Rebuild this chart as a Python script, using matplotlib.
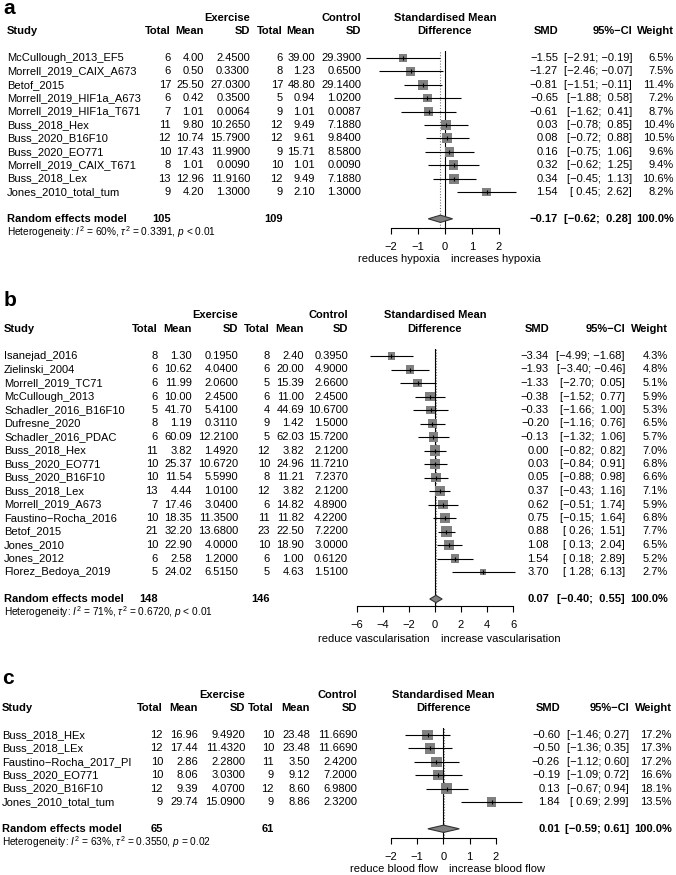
import matplotlib
matplotlib.use("Agg")
import matplotlib.pyplot as plt
from matplotlib.transforms import blended_transform_factory

plt.rcParams["font.family"] = ["Liberation Sans", "DejaVu Sans"]
plt.rcParams["mathtext.fontset"] = "custom"
plt.rcParams["mathtext.rm"] = "Liberation Sans"
plt.rcParams["mathtext.it"] = "Liberation Sans:italic"
plt.rcParams["mathtext.bf"] = "Liberation Sans:bold"

# ---- panel a : hypoxia ----
studies_a = ["McCullough_2013_EF5", "Morrell_2019_CAIX_A673", "Betof_2015",
             "Morrell_2019_HIF1a_A673", "Morrell_2019_HIF1a_T671", "Buss_2018_Hex",
             "Buss_2020_B16F10", "Buss_2020_EO771", "Morrell_2019_CAIX_T671",
             "Buss_2018_Lex", "Jones_2010_total_tum"]
ex_n_a = [6, 6, 17, 6, 7, 11, 12, 10, 8, 13, 9]
ex_mean_a = [4.00, 0.50, 25.50, 0.42, 1.01, 9.80, 10.74, 17.43, 1.01, 12.96, 4.20]
ex_sd_a = [2.4500, 0.3300, 27.0300, 0.3500, 0.0064, 10.2650, 15.7900, 11.9900, 0.0090, 11.9160, 1.3000]
ct_n_a = [6, 8, 17, 5, 9, 12, 12, 9, 10, 12, 9]
ct_mean_a = [39.00, 1.23, 48.80, 0.94, 1.01, 9.49, 9.61, 15.71, 1.01, 9.49, 2.10]
ct_sd_a = [29.3900, 0.6500, 29.1400, 1.0200, 0.0087, 7.1880, 9.8400, 8.5800, 0.0090, 7.1880, 1.3000]
smd_a = [-1.55, -1.27, -0.81, -0.65, -0.61, 0.03, 0.08, 0.16, 0.32, 0.34, 1.54]
lo_a = [-2.91, -2.46, -1.51, -1.88, -1.62, -0.78, -0.72, -0.75, -0.62, -0.45, 0.45]
hi_a = [-0.19, -0.07, -0.11, 0.58, 0.41, 0.85, 0.88, 1.06, 1.25, 1.13, 2.62]
w_a = [6.5, 7.5, 11.4, 7.2, 8.7, 10.4, 10.5, 9.6, 9.4, 10.6, 8.2]
pooled_a = [-0.17, -0.62, 0.28]
totals_a = [105, 109]
het_a = r"Heterogeneity: $I^2$ = 60%, $\tau^2$ = 0.3391, $p$ < 0.01"
ticks_a = [-2, -1, 0, 1, 2]
labels_a = ["reduces hypoxia", "increases hypoxia"]

# ---- panel b : vascularisation ----
studies_b = ["Isanejad_2016", "Zielinski_2004", "Morrell_2019_TC71", "McCullough_2013",
             "Schadler_2016_B16F10", "Dufresne_2020", "Schadler_2016_PDAC", "Buss_2018_Hex",
             "Buss_2020_EO771", "Buss_2020_B16F10", "Buss_2018_Lex", "Morrell_2019_A673",
             "Faustino\u2212Rocha_2016", "Betof_2015", "Jones_2010", "Jones_2012",
             "Florez_Bedoya_2019"]
ex_n_b = [8, 6, 6, 6, 5, 8, 6, 11, 10, 10, 13, 7, 10, 21, 10, 6, 5]
ex_mean_b = [1.30, 10.62, 11.99, 10.00, 41.70, 1.19, 60.09, 3.82, 25.37, 11.54, 4.44,
             17.46, 18.35, 32.20, 22.90, 2.58, 24.02]
ex_sd_b = [0.1950, 4.0400, 2.0600, 2.4500, 5.4100, 0.3110, 12.2100, 1.4920, 10.6720,
           5.5990, 1.0100, 3.0400, 11.3500, 13.6800, 4.0000, 1.2000, 6.5150]
ct_n_b = [8, 6, 5, 6, 4, 9, 5, 12, 10, 8, 12, 6, 11, 23, 10, 6, 5]
ct_mean_b = [2.40, 20.00, 15.39, 11.00, 44.69, 1.42, 62.03, 3.82, 24.96, 11.21, 3.82,
             14.82, 11.82, 22.50, 18.90, 1.00, 4.63]
ct_sd_b = [0.3950, 4.9000, 2.6600, 2.4500, 10.6700, 1.5000, 15.7200, 2.1200, 11.7210,
           7.2370, 2.1200, 4.8900, 4.2200, 7.2200, 3.0000, 0.6120, 1.5100]
smd_b = [-3.34, -1.93, -1.33, -0.38, -0.33, -0.20, -0.13, 0.00, 0.03, 0.05, 0.37, 0.62,
         0.75, 0.88, 1.08, 1.54, 3.70]
lo_b = [-4.99, -3.40, -2.70, -1.52, -1.66, -1.16, -1.32, -0.82, -0.84, -0.88, -0.43,
        -0.51, -0.15, 0.26, 0.13, 0.18, 1.28]
hi_b = [-1.68, -0.46, 0.05, 0.77, 1.00, 0.76, 1.06, 0.82, 0.91, 0.98, 1.16, 1.74, 1.64,
        1.51, 2.04, 2.89, 6.13]
w_b = [4.3, 4.8, 5.1, 5.9, 5.3, 6.5, 5.7, 7.0, 6.8, 6.6, 7.1, 5.9, 6.8, 7.7, 6.5, 5.2, 2.7]
pooled_b = [0.07, -0.40, 0.55]
totals_b = [148, 146]
het_b = r"Heterogeneity: $I^2$ = 71%, $\tau^2$ = 0.6720, $p$ < 0.01"
ticks_b = [-6, -4, -2, 0, 2, 4, 6]
labels_b = ["reduce vascularisation", "increase vascularisation"]

# ---- panel c : blood flow ----
studies_c = ["Buss_2018_HEx", "Buss_2018_LEx", "Faustino\u2212Rocha_2017_PI",
             "Buss_2020_EO771", "Buss_2020_B16F10", "Jones_2010_total_tum"]
ex_n_c = [12, 12, 10, 10, 12, 9]
ex_mean_c = [16.96, 17.44, 2.86, 8.06, 9.39, 29.74]
ex_sd_c = [9.4920, 11.4320, 2.2800, 3.0300, 4.0700, 15.0900]
ct_n_c = [10, 10, 11, 9, 12, 9]
ct_mean_c = [23.48, 23.48, 3.50, 9.12, 8.60, 8.86]
ct_sd_c = [11.6690, 11.6690, 2.4200, 7.2000, 6.9800, 2.3200]
smd_c = [-0.60, -0.50, -0.26, -0.19, 0.13, 1.84]
lo_c = [-1.46, -1.36, -1.12, -1.09, -0.67, 0.69]
hi_c = [0.27, 0.35, 0.60, 0.72, 0.94, 2.99]
w_c = [17.2, 17.3, 17.2, 16.6, 18.1, 13.5]
pooled_c = [0.01, -0.59, 0.61]
totals_c = [65, 61]
het_c = r"Heterogeneity: $I^2$ = 63%, $\tau^2$ = 0.3550, $p$ = 0.02"
ticks_c = [-2, -1, 0, 1, 2]
labels_c = ["reduce blood flow", "increase blood flow"]

W, H = 676, 875
FS = 8.0
fig = plt.figure(figsize=(W / 100, H / 100), dpi=100)


def fmt(v, d=2):
    return f"{v:.{d}f}".replace("-", "\u2212")


def panel(letter, lay, studies, e_n, e_m, e_sd, c_n, c_m, c_sd, smd, lo, hi, w,
          pooled, totals, het, ticks, labs):
    n = len(studies)
    row0, sp = lay["row0"], lay["sp"]
    axis_row = (lay["axis"] - row0) / sp
    top_row = -0.55
    zero, sc = lay["zero"], lay["scale"]
    xl, xr = lay["xl"], lay["xr"]
    top_px = row0 + top_row * sp
    ax = fig.add_axes([xl / W, 1 - lay["axis"] / H, (xr - xl) / W, (lay["axis"] - top_px) / H])
    ax.set_xlim((xl - zero) / sc, (xr - zero) / sc)
    ax.set_ylim(axis_row, top_row)
    ax.patch.set_visible(False)
    for s in ["top", "left", "right"]:
        ax.spines[s].set_visible(False)
    ax.spines["bottom"].set_bounds(ticks[0], ticks[-1])
    ax.spines["bottom"].set_linewidth(0.8)
    ax.set_yticks([])
    ax.set_xticks(ticks)
    ax.tick_params(axis="x", direction="out", length=4, width=0.8, pad=6, labelsize=FS)

    rows = list(range(n))
    wmax = max(w)
    sizes = [(10.5 * 0.72 * (wi / wmax) ** 0.5) ** 2 for wi in w]
    ax.axvline(0, color="black", lw=0.8, zorder=1)
    ax.axvline(pooled[0], color="#777777", lw=0.8, ls=(0, (1, 1.5)), zorder=1)
    ax.scatter(smd, rows, marker="s", s=sizes, c="#808080", linewidths=0, zorder=2)
    ax.hlines(rows, lo, hi, color="black", lw=0.8, zorder=3)
    ax.scatter(smd, rows, marker="|", s=10, c="black", linewidths=0.8, zorder=4)
    pr = n + 1
    est, plo, phi = pooled
    ax.fill([plo, est, phi, est], [pr, pr - 0.27, pr, pr + 0.27],
            facecolor="#808080", edgecolor="#333333", lw=0.8, zorder=3)
    ax.annotate(labs[0], xy=(0, n + 4), xytext=(-4, 0), textcoords="offset points",
                ha="right", va="center", fontsize=FS, annotation_clip=False)
    ax.annotate(labs[1], xy=(0, n + 4), xytext=(4, 0), textcoords="offset points",
                ha="left", va="center", fontsize=FS, annotation_clip=False)

    tr = blended_transform_factory(fig.transFigure, ax.transData)
    col = lay["cols"]

    def put(x, y, s, ha="right", bold=False, size=FS):
        fig.text(x / W, y, s, transform=tr, ha=ha, va="center", fontsize=size,
                 fontweight="bold" if bold else "normal")

    # headers
    fig.text(lay["letter"][0] / W, 1 - lay["letter"][1] / H, letter, fontsize=15,
             fontweight="bold", ha="left", va="center")
    put(col[3], -3, "Exercise", bold=True)
    put(col[6], -3, "Control", bold=True)
    put(col[0], -2, "Study", ha="left", bold=True)
    for ci, h in zip(col[1:7], ["Total", "Mean", "SD", "Total", "Mean", "SD"]):
        put(ci, -2, h, bold=True)
    fig.text(zero / W, -3, "Standardised Mean", transform=tr, ha="center", va="center",
             fontsize=FS, fontweight="bold")
    fig.text(zero / W, -2, "Difference", transform=tr, ha="center", va="center",
             fontsize=FS, fontweight="bold")
    put(col[7], -2, "SMD", bold=True)
    put(col[8], -2, "95%\u2212CI", bold=True)
    put(col[9], -2, "Weight", bold=True)

    los = [fmt(v) for v in lo + [plo]]
    his = [fmt(v) for v in hi + [phi]]
    lw_, hw_ = max(map(len, los)), max(map(len, his))
    cis = [f"[{a.rjust(lw_)}; {b.rjust(hw_)}]" for a, b in zip(los, his)]

    for i in range(n):
        put(col[0], i, studies[i], ha="left")
        put(col[1], i, str(e_n[i]))
        put(col[2], i, fmt(e_m[i]))
        put(col[3], i, fmt(e_sd[i], 4))
        put(col[4], i, str(c_n[i]))
        put(col[5], i, fmt(c_m[i]))
        put(col[6], i, fmt(c_sd[i], 4))
        put(col[7], i, fmt(smd[i]))
        put(col[8], i, cis[i])
        put(col[9], i, f"{w[i]:.1f}%")

    put(col[0], pr, "Random effects model", ha="left", bold=True)
    put(col[1], pr, str(totals[0]), bold=True)
    put(col[4], pr, str(totals[1]), bold=True)
    put(col[7], pr, fmt(est), bold=True)
    put(col[8], pr, cis[-1], bold=True)
    put(col[9], pr, "100.0%", bold=True)
    put(col[0], n + 2, het, ha="left", size=7.3)


# column order: study, e_n, e_mean, e_sd, c_n, c_mean, c_sd, smd, ci, weight
lay_a = dict(row0=58, sp=13.4, axis=228, zero=445, scale=27.0, xl=360, xr=540,
             letter=(3, 9), cols=[7, 171, 204, 250, 283, 315, 361, 558, 632, 674])
lay_b = dict(row0=356, sp=13.5, axis=606, zero=435, scale=13.03, xl=350, xr=525,
             letter=(4, 301), cols=[4, 158, 192, 238, 270, 304, 348, 549, 625, 668])
lay_c = dict(row0=735, sp=13.4, axis=838, zero=443.3, scale=26.2, xl=370, xr=535,
             letter=(2, 678), cols=[2, 163, 198, 245, 274, 310, 357, 560, 629, 672])

panel("a", lay_a, studies_a, ex_n_a, ex_mean_a, ex_sd_a, ct_n_a, ct_mean_a, ct_sd_a,
      smd_a, lo_a, hi_a, w_a, pooled_a, totals_a, het_a, ticks_a, labels_a)
panel("b", lay_b, studies_b, ex_n_b, ex_mean_b, ex_sd_b, ct_n_b, ct_mean_b, ct_sd_b,
      smd_b, lo_b, hi_b, w_b, pooled_b, totals_b, het_b, ticks_b, labels_b)
panel("c", lay_c, studies_c, ex_n_c, ex_mean_c, ex_sd_c, ct_n_c, ct_mean_c, ct_sd_c,
      smd_c, lo_c, hi_c, w_c, pooled_c, totals_c, het_c, ticks_c, labels_c)

fig.savefig("out.png", dpi=100)
